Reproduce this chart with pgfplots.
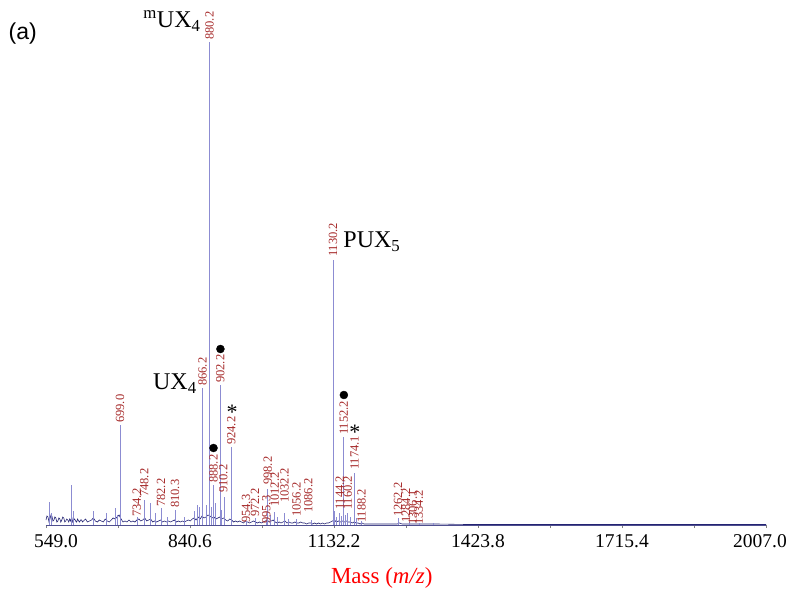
\documentclass[border=0pt]{standalone}
\usepackage{pgfplots}
\pgfplotsset{compat=1.18}
\usepackage{fontspec}
\setmainfont{Liberation Serif}
\newfontfamily\arialfont{Liberation Sans}
\definecolor{peak}{RGB}{140,140,210}
\definecolor{noise}{RGB}{35,35,115}
\definecolor{lab}{RGB}{165,40,40}
\begin{document}
\begin{tikzpicture}
\path[use as bounding box] (0,0) rectangle (797pt,589pt);
\begin{axis}[at={(46pt,64pt)}, anchor=south west, scale only axis,
  width=720pt, height=525pt, xmin=549, xmax=2007, ymin=0, ymax=525,
  axis x line*=bottom, axis y line=none, clip=false,
  xtick={549,840.6,1132.2,1423.8,1715.4,2007},
  xticklabels={\rule{20pt}{0pt}549.0,840.6,1132.2,1423.8,1715.4,2007.0\rule{12pt}{0pt}},
  minor xtick={694.8,986.4,1278,1569.6,1861.2},
  tick align=outside, major tick length=3pt, minor tick length=3pt,
  every tick/.style={gray},
  x axis line style={noise!80, line width=0.8pt},
  xticklabel style={font=\fontsize{19.5}{20}\selectfont, yshift=-3pt}]
% baseline noise
\addplot[noise, line width=0.6pt, sharp plot, mark=none] coordinates {
(549,5) (551,9) (553,8) (555,3) (557,6) (559,10) (561,9) (563,4) (565,5) (567,8) (569,7) (571,3) (573,4) (575,7) (577,6) (579,3) (581,5) (583,8) (585,7)
(587,3) (589,4) (591,6) (593,5) (595,3) (597,6) (599,4) (601,8) (603,3) (605,5) (607,6) (609,4) (611,3) (613,6) (615,4) (617,3) (619,5) (621,5) (623,3) (625,4)
(629,6) (633,3) (637,4) (641,5) (645,7) (649,4) (653,3) (657,5) (661,4) (665,3)
(669,6) (673,4) (677,3) (681,5) (685,7) (689,6) (693,8) (697,10) (701,6) (705,3)
(709,4) (713,3) (717,5) (721,3) (725,4) (729,3) (733,5) (737,6) (741,4) (745,5)
(749,7) (753,4) (757,5) (761,6) (765,3) (769,4) (773,3) (777,4) (781,5) (785,3)
(789,4) (793,3) (797,4) (801,3) (805,4) (809,5) (813,3) (817,4) (821,3) (825,4)
(829,3) (833,4) (837,5) (841,4) (845,6) (849,7) (853,5) (857,8) (861,6) (865,9)
(869,7) (873,8) (877,10) (881,9) (885,7) (889,8) (893,6) (897,7) (901,8) (905,6)
(909,7) (913,5) (917,4) (921,6) (925,5) (929,3) (933,4) (937,3) (941,4) (945,3)
(949,2) (953,4) (957,3) (961,2) (965,3) (969,4) (973,3) (977,2) (981,3) (985,2)
(989,3) (993,4) (997,5) (1001,3) (1005,4) (1009,5) (1013,3) (1017,2) (1021,3) (1025,2)
(1029,3) (1033,4) (1037,2) (1041,3) (1045,2) (1049,2) (1053,3) (1057,2) (1061,2) (1065,3)
(1069,2) (1073,2) (1077,1) (1081,2) (1085,2) (1089,1) (1093,2) (1097,1) (1101,2) (1105,1)
(1109,2) (1113,1) (1117,2) (1121,2) (1125,3) (1129,4) (1133,5) (1137,3) (1141,4) (1145,3)
(1149,4) (1153,3) (1157,4) (1161,3) (1165,3) (1169,2) (1173,3) (1177,2) (1181,2) (1185,1)
(1189,2) (1193,1) (1197,1) (1201,1) (1220,1) (1260,1) (1265,2) (1270,1) (1300,1) (1340,1)
(1400,0.5) (2007,0.5)};
% peaks
\addplot[ycomb, peak, line width=0.9pt, mark=none] table {
x y
555 23
560 12
600 40
604 14
646 14
672 12
690 17
694 10
699.0 100
734.2 8
748.2 25
760 22
770 12
782.2 17
795 8
810.3 15
830 8
850 14
855 20
860 18
866.2 137
873 20
880.2 483
884 18
888.2 40
893 22
902.2 140
905 15
910.2 28
924.2 78
954.3 4
972.2 7
995.3 5
998.2 36
1003 10
1012.2 13
1018 8
1032.2 12
1040 6
1056.2 6
1086.2 5
1130.2 265
1134 14
1138 8
1144.2 12
1148 9
1152.2 88
1156 10
1160.2 12
1166 8
1174.1 52
1178 7
1188.2 4
1262.2 7
1284.2 3
1306.1 2
1334.2 2
};
% marker dots
\addplot[only marks, mark=*, mark size=4pt, black] coordinates {(902.2,176) (888.2,77) (1152.2,130)};
% peak labels
\addplot[draw=none, nodes near coords, point meta=explicit symbolic,
  every node near coord/.append style={rotate=90, anchor=west, inner sep=0pt,
  font=\fontsize{12.5}{12.5}\selectfont, text=lab}] table[meta=t] {
x y t
699.0 102 699.0
733 8 734.2
748.2 28 748.2
782.2 18 782.2
810.3 17 810.3
866.2 139 866.2
880.2 485 880.2
888.2 42 888.2
902.2 142 902.2
908 32 910.2
924.2 80 924.2
954.3 2 954.3
972.2 8 972.2
995.3 1 995.3
998.2 40 998.2
1012.2 18 1012.2
1032.2 22 1032.2
1056.2 8 1056.2
1080 12 1086.2
1130.2 268 1130.2
1144.2 15 1144.2
1152.2 90 1152.2
1160.2 15 1160.2
1174.1 55 1174.1
1188.2 2 1188.2
1262 8 1262.2
1278 2 1284.2
1292 0 1306.1
1304 0 1334.2
};
\node[anchor=base, font=\fontsize{24}{24}\selectfont] at (axis cs:804,497) {\textsuperscript{m}UX\textsubscript{4}};
\node[anchor=base, font=\fontsize{24}{24}\selectfont] at (axis cs:1209,277) {PUX\textsubscript{5}};
\node[anchor=base, font=\fontsize{24}{24}\selectfont] at (axis cs:810,135) {UX\textsubscript{4}};
\node[anchor=north, inner sep=0pt, font=\fontsize{22}{22}\selectfont] at (axis cs:925.7,120) {*};
\node[anchor=north, inner sep=0pt, font=\fontsize{22}{22}\selectfont] at (axis cs:1174.7,100) {*};
\node[anchor=base, font=\arialfont\fontsize{23}{23}\selectfont] at (axis cs:502,485) {(a)};
\node[anchor=base, text=red, font=\fontsize{23}{23}\selectfont] at (axis cs:1229,-58) {Mass (\textit{m/z})};
\end{axis}
\end{tikzpicture}
\end{document}
